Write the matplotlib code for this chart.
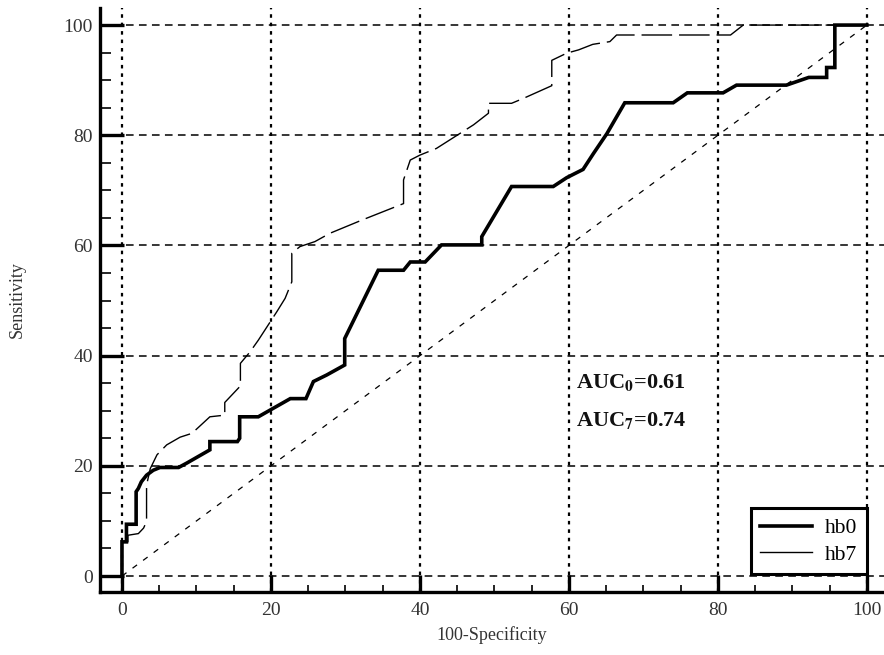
import matplotlib
matplotlib.use("Agg")
import matplotlib.pyplot as plt
from matplotlib.lines import Line2D
from matplotlib.ticker import MultipleLocator

plt.rcParams['font.family'] = ['Liberation Serif', 'DejaVu Serif']
plt.rcParams['mathtext.fontset'] = 'stix'

# ROC data (100-Specificity, Sensitivity)
hb0_x = [0, 0, 0.6, 0.6, 1.9, 1.9, 2.2, 2.6, 3.3, 4.2, 5.1, 7.6, 8.7, 11.8, 11.8, 15.5, 15.8,
         15.8, 18.3, 22.6, 24.7, 25.7, 27.5, 29.9, 29.9, 34.4, 37.8, 38.7, 40.7, 42.9, 48.3,
         48.3, 52.3, 57.9, 59.7, 61.9, 63.3, 65.1, 67.5, 74.0, 75.9, 80.7, 82.5, 89.2, 92.2,
         94.6, 94.6, 95.7, 95.7, 100]
hb0_y = [0, 6.2, 6.2, 9.4, 9.4, 15.3, 15.9, 17.1, 18.3, 19.2, 19.7, 19.7, 20.5, 22.9, 24.4, 24.4, 25.0,
         28.9, 28.9, 32.2, 32.2, 35.3, 36.5, 38.3, 43.1, 55.5, 55.5, 57.0, 57.0, 60.1, 60.1,
         61.6, 70.7, 70.7, 72.3, 73.8, 76.7, 80.3, 85.9, 85.9, 87.7, 87.7, 89.1, 89.1, 90.5,
         90.5, 92.3, 92.3, 100, 100]

hb7_x = [0, 0, 0.8, 0.8, 2.2, 2.9, 3.3, 3.3, 3.8, 4.7, 6.0, 7.8, 9.4, 11.8, 13.8, 13.8, 15.9,
         15.9, 17.2, 18.3, 20.8, 21.9, 22.8, 22.8, 23.9, 25.9, 27.9, 32.2, 37.8, 37.8, 38.7,
         40.0, 42.2, 47.2, 49.2, 49.2, 52.3, 53.9, 57.7, 57.7, 59.7, 61.3, 63.2, 65.5, 66.4,
         81.7, 83.4, 100]
hb7_y = [0, 6.2, 6.2, 7.4, 7.7, 8.7, 9.9, 16.5, 19.5, 22.0, 23.8, 25.2, 25.9, 28.9, 29.2, 31.5, 34.5,
         38.6, 40.7, 42.8, 48.0, 50.4, 53.4, 58.6, 59.8, 60.7, 62.2, 64.6, 67.6, 71.9, 75.5,
         76.4, 77.6, 81.9, 84.0, 85.8, 85.8, 86.7, 89.0, 93.6, 94.9, 95.5, 96.5, 97.0, 98.2,
         98.2, 100, 100]

diag = [0, 100]
x_ticks = [0, 20, 40, 60, 80, 100]
y_ticks = [0, 20, 40, 60, 80, 100]
series_names = ['hb0', 'hb7']
auc_labels = [r'AUC$_{\mathbf{0}}$=0.61', r'AUC$_{\mathbf{7}}$=0.74']

fig = plt.figure(figsize=(8.84, 6.55), dpi=100)
ax = fig.add_axes([100 / 884, 63 / 655, 784 / 884, 584 / 655])
ax.set_xlim(-2.95, 102.3)
ax.set_ylim(-2.9, 103.1)

# grid
for yv in y_ticks:
    ax.plot([-2.95, 102.3], [yv, yv], color='black', lw=1.1, dashes=(5, 3.5), zorder=1)
for xv in x_ticks:
    ax.plot([xv, xv], [-2.9, 103.1], color='black', lw=1.6, dashes=(1.6, 2.2), zorder=1)

# diagonal
ax.plot(diag, diag, color='black', lw=0.9, dashes=(4.5, 6), zorder=2)

# curves
ax.plot(hb7_x, hb7_y, color='black', lw=1.0, dashes=(22, 5), zorder=3)
ax.plot(hb0_x, hb0_y, color='black', lw=2.6, zorder=4, solid_joinstyle='miter')

# AUC annotations
ax.text(61.0, 35.2, auc_labels[0], fontsize=16, fontweight='bold', va='center', ha='left',
        color='#111111')
ax.text(61.0, 28.3, auc_labels[1], fontsize=16, fontweight='bold', va='center', ha='left',
        color='#111111')

# legend
handles = [Line2D([], [], color='black', lw=2.6), Line2D([], [], color='black', lw=1.0)]
leg = ax.legend(handles, series_names, loc='lower right', bbox_to_anchor=(100, 0.3),
                bbox_transform=ax.transData, borderaxespad=0, fancybox=False,
                framealpha=1, edgecolor='black', fontsize=15.5, handlelength=2.4,
                labelspacing=0.3, borderpad=0.45, handletextpad=0.6)
leg.get_frame().set_linewidth(2.2)
leg.set_zorder(10)

# spines & ticks
for s in ['top', 'right']:
    ax.spines[s].set_visible(False)
for s in ['left', 'bottom']:
    ax.spines[s].set_linewidth(2.4)

ax.set_xticks(x_ticks)
ax.set_yticks(y_ticks)
ax.xaxis.set_minor_locator(MultipleLocator(5))
ax.yaxis.set_minor_locator(MultipleLocator(5))
ax.tick_params(axis='y', which='major', direction='in', length=17, width=2.4, labelsize=14, pad=5,
               labelcolor='#333333')
ax.tick_params(axis='y', which='minor', direction='in', length=8, width=1.2)
ax.tick_params(axis='x', which='major', direction='in', length=12, width=2.4, labelsize=14, pad=7,
               labelcolor='#333333')
ax.tick_params(axis='x', which='minor', direction='in', length=5, width=1.2)

ax.set_xlabel('100-Specificity', fontsize=13, color='#333333', labelpad=5)
ax.set_ylabel('Sensitivity', fontsize=13, color='#333333')
ax.yaxis.set_label_coords(-0.095, 0.5)

fig.savefig('out.png', dpi=100)
